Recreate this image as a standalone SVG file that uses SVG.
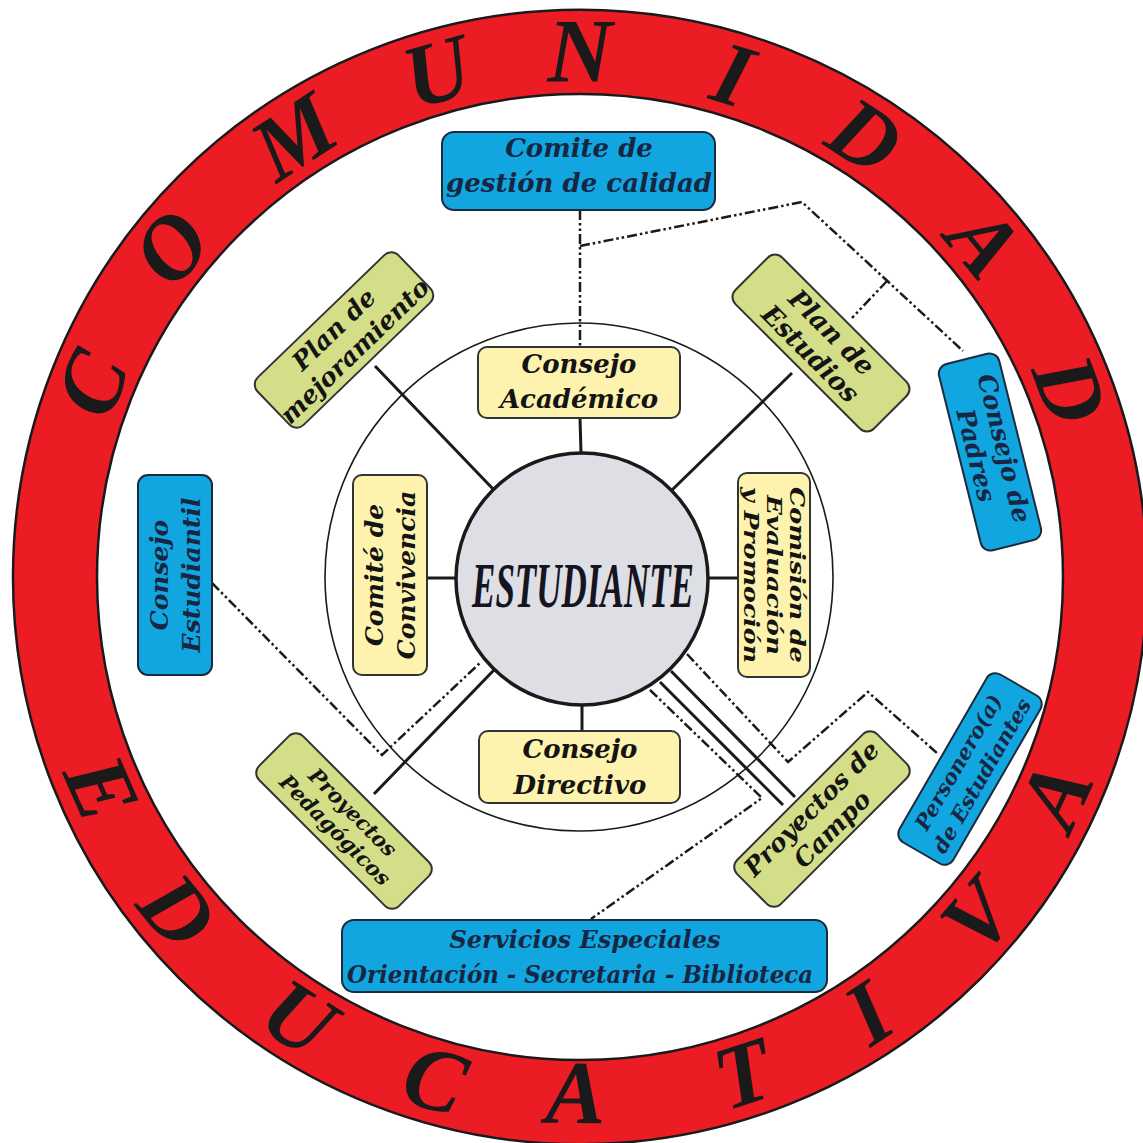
<svg xmlns="http://www.w3.org/2000/svg" width="1143" height="1143" viewBox="0 0 1143 1143">
<style>
.bg{fill:#ffffff}
.ring{fill:#ec1c24;stroke:#1a1a1a;stroke-width:2.5;fill-rule:evenodd}
.rl{font-family:"Liberation Serif",serif;font-style:italic;font-weight:bold;font-size:90px;text-anchor:middle;fill:#1a1a1a}
.thin{fill:none;stroke:#1a1a1a;stroke-width:1.6}
.core{fill:#dedfe4;stroke:#1a1a1a;stroke-width:3.5}
.blue{fill:#12a6e0;stroke:#1b2a3c;stroke-width:2}
.yel{fill:#fdf3ae;stroke:#333;stroke-width:2}
.grn{fill:#d4de88;stroke:#333;stroke-width:2}
.lbl{font-family:"DejaVu Serif",serif;font-weight:bold;font-style:italic;text-anchor:middle;fill:#141414}
.lb{fill:#172643}
.solid{fill:none;stroke:#1a1a1a;stroke-width:3}
.dd{fill:none;stroke:#1a1a1a;stroke-width:2.5;stroke-dasharray:10 3 2.5 3 2.5 3}
</style>
<rect class="bg" x="0" y="0" width="1143" height="1143"/>
<g id="ring">
<path class="ring" d="M13,577 a567,567 0 1,0 1134,0 a567,567 0 1,0 -1134,0 Z M97,577 a483,483 0 1,0 966,0 a483,483 0 1,0 -966,0 Z"/>
<text class="rl" x="580" y="82" transform="rotate(-68.4 580 577)">C</text>
<text class="rl" x="580" y="82" transform="rotate(-51.1 580 577)">O</text>
<text class="rl" x="580" y="82" transform="rotate(-33 580 577)">M</text>
<text class="rl" x="580" y="82" transform="rotate(-15.8 580 577)">U</text>
<text class="rl" x="580" y="82" transform="rotate(0 580 577)">N</text>
<text class="rl" x="580" y="82" transform="rotate(16.9 580 577)">I</text>
<text class="rl" x="580" y="82" transform="rotate(32.9 580 577)">D</text>
<text class="rl" x="580" y="82" transform="rotate(50.4 580 577)">A</text>
<text class="rl" x="580" y="82" transform="rotate(69.1 580 577)">D</text>
<text class="rl" x="580" y="1130" transform="rotate(66.2 580 577)">E</text>
<text class="rl" x="580" y="1130" transform="rotate(50.3 580 577)">D</text>
<text class="rl" x="580" y="1130" transform="rotate(32.5 580 577)">U</text>
<text class="rl" x="580" y="1130" transform="rotate(16.1 580 577)">C</text>
<text class="rl" x="580" y="1123" transform="rotate(0.5 580 577)">A</text>
<text class="rl" x="580" y="1130" transform="rotate(-18.2 580 577)">T</text>
<text class="rl" x="580" y="1130" transform="rotate(-33.5 580 577)">I</text>
<text class="rl" x="580" y="1130" transform="rotate(-49.5 580 577)">V</text>
<text class="rl" x="580" y="1130" transform="rotate(-65.4 580 577)">A</text>
</g>
<circle class="thin" cx="579" cy="577" r="254"/>
<g id="connectors">
<line class="solid" x1="580" y1="418" x2="581" y2="453"/>
<line class="solid" x1="427" y1="578" x2="457" y2="578"/>
<line class="solid" x1="707" y1="578" x2="738" y2="578"/>
<line class="solid" x1="582" y1="705" x2="582" y2="731"/>
<line class="solid" x1="375" y1="366" x2="494" y2="490"/>
<line class="solid" x1="792" y1="373" x2="672" y2="490"/>
<line class="solid" x1="374" y1="794" x2="494" y2="670"/>
<line class="solid" x1="660" y1="682" x2="783" y2="805"/>
<line class="solid" x1="671" y1="671" x2="795" y2="797"/>
<polyline class="dd" points="580,210 580,347"/>
<polyline class="dd" points="580,246 802,202 963,351"/>
<polyline class="dd" points="887,281 852,318"/>
<polyline class="dd" points="212,583 382,755 481,662"/>
<polyline class="dd" points="650,690 762,798 591,919"/>
<polyline class="dd" points="687,654 788,762 868,692 937,753"/>
</g>
<g id="estudiante">
<circle class="core" cx="582" cy="579" r="126"/>
<text x="472" y="607" font-family="Liberation Serif" font-weight="bold" font-style="italic" font-size="64" textLength="222" lengthAdjust="spacingAndGlyphs" fill="#15151f">ESTUDIANTE</text>
</g>
<g id="comite-gestion">
<rect class="blue" x="442" y="132" width="273" height="78" rx="12"/>
<text class="lbl lb" x="579" y="157" font-size="26">Comite de</text>
<text class="lbl lb" x="579" y="192" font-size="26">gestión de calidad</text>
</g>
<g id="consejo-academico">
<rect class="yel" x="478" y="347" width="202" height="71" rx="9"/>
<text class="lbl" x="579" y="373" font-size="26">Consejo</text>
<text class="lbl" x="579" y="408" font-size="26">Académico</text>
</g>
<g id="consejo-directivo">
<rect class="yel" x="479" y="731" width="201" height="72" rx="9"/>
<text class="lbl" x="580" y="758" font-size="26">Consejo</text>
<text class="lbl" x="580" y="794" font-size="26">Directivo</text>
</g>
<g id="comite-convivencia" transform="translate(390,575) rotate(-90)">
<rect class="yel" x="-100" y="-37" width="200" height="74" rx="9"/>
<text class="lbl" x="0" y="-7" font-size="25">Comité de</text>
<text class="lbl" x="0" y="25" font-size="25">Convivencia</text>
</g>
<g id="comision-evaluacion" transform="translate(774,575) rotate(90)">
<rect class="yel" x="-102" y="-36" width="204" height="72" rx="9"/>
<text class="lbl" x="0" y="-16" font-size="20" textLength="176" lengthAdjust="spacingAndGlyphs">Comisión de</text>
<text class="lbl" x="0" y="7" font-size="20" textLength="160" lengthAdjust="spacingAndGlyphs">Evaluación</text>
<text class="lbl" x="0" y="30" font-size="20" textLength="176" lengthAdjust="spacingAndGlyphs">y Promoción</text>
</g>
<g id="consejo-estudiantil" transform="translate(175,575) rotate(-90)">
<rect class="blue" x="-100" y="-37" width="200" height="74" rx="10"/>
<text class="lbl lb" x="0" y="-7" font-size="25">Consejo</text>
<text class="lbl lb" x="0" y="25" font-size="25">Estudiantil</text>
</g>
<g id="plan-mejoramiento" transform="translate(344,340) rotate(-44)">
<rect class="grn" x="-98" y="-33" width="196" height="66" rx="10"/>
<text class="lbl" x="0" y="-6" font-size="25">Plan de</text>
<text class="lbl" x="0" y="24" font-size="25">mejoramiento</text>
</g>
<g id="plan-estudios" transform="translate(821,343) rotate(45)">
<rect class="grn" x="-98" y="-33" width="196" height="66" rx="10"/>
<text class="lbl" x="0" y="-6" font-size="26">Plan de</text>
<text class="lbl" x="0" y="24" font-size="26">Estudios</text>
</g>
<g id="consejo-padres" transform="translate(990,452) rotate(76)">
<rect class="blue" x="-96" y="-31" width="192" height="62" rx="10"/>
<text class="lbl lb" x="0" y="-6" font-size="25">Consejo de</text>
<text class="lbl lb" x="0" y="23" font-size="25">Padres</text>
</g>
<g id="proyectos-pedagogicos" transform="translate(344,821) rotate(45)">
<rect class="grn" x="-99" y="-31" width="198" height="62" rx="10"/>
<text class="lbl" x="0" y="-5" font-size="21">Proyectos</text>
<text class="lbl" x="0" y="20" font-size="21">Pedagógicos</text>
</g>
<g id="proyectos-campo" transform="translate(822,819) rotate(-45)">
<rect class="grn" x="-99" y="-31" width="198" height="62" rx="10"/>
<text class="lbl" x="0" y="-6" font-size="25">Proyectos de</text>
<text class="lbl" x="0" y="23" font-size="25">Campo</text>
</g>
<g id="personero" transform="translate(970,769) rotate(-60)">
<rect class="blue" x="-97" y="-31" width="194" height="62" rx="10"/>
<text class="lbl lb" x="0" y="-6" font-size="21">Personero(a)</text>
<text class="lbl lb" x="0" y="21" font-size="21">de Estudiantes</text>
</g>
<g id="servicios-especiales">
<rect class="blue" x="342" y="920" width="485" height="72" rx="12"/>
<text class="lbl lb" x="585" y="948" font-size="24">Servicios Especiales</text>
<text class="lbl lb" x="580" y="983" font-size="24" textLength="466" lengthAdjust="spacingAndGlyphs">Orientación - Secretaria - Biblioteca</text>
</g>
</svg>
